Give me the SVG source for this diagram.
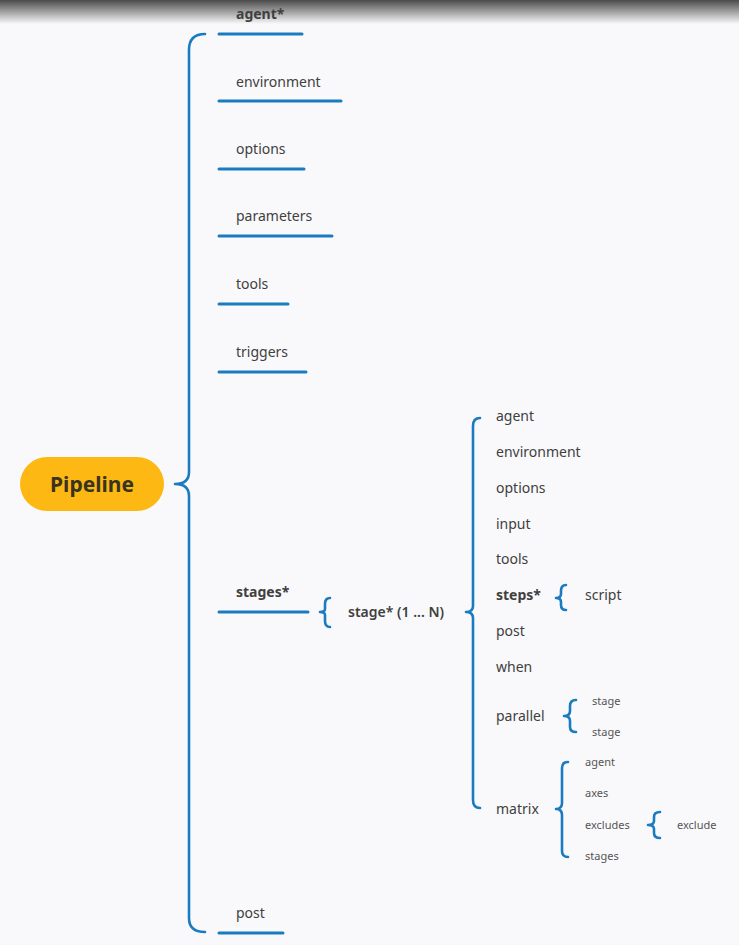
<svg xmlns="http://www.w3.org/2000/svg" width="739" height="945" viewBox="0 0 739 945">
<defs>
<linearGradient id="topshade" x1="0" y1="0" x2="0" y2="1">
<stop offset="0" stop-color="#4a4a4a"/>
<stop offset="0.45" stop-color="#9a9a9a"/>
<stop offset="1" stop-color="#f9f9fb"/>
</linearGradient>
<style>
.t{font-family:"Noto Sans","Open Sans",sans-serif;fill:#404040;font-size:14px}
.b{font-weight:bold}
.s{font-size:11px;fill:#555}
.ln{stroke:#1B7BC0;stroke-width:3;fill:none;stroke-linecap:round}
.br{stroke:#1B7BC0;stroke-width:2.6;fill:none;stroke-linecap:round;stroke-linejoin:round}
</style>
</defs>
<rect width="739" height="945" fill="#f9f9fb"/>
<rect width="739" height="24" fill="url(#topshade)"/>
<g id="pipeline">
<rect x="20" y="457" width="144" height="54" rx="27" fill="#FDB813"/>
<text x="92" y="492" text-anchor="middle" class="t b" style="font-size:21px;fill:#3a3320">Pipeline</text>
</g>
<g id="connectors">
<path class="br" d="M205,34 Q189,34 189,50 L189,472 Q189,484 175,484 Q189,484 189,496 L189,918 Q189,932 205,932"/>
<path class="ln" d="M219,34 H302"/>
<path class="ln" d="M219,101 H341"/>
<path class="ln" d="M219,169 H304"/>
<path class="ln" d="M219,236 H332"/>
<path class="ln" d="M219,304 H288"/>
<path class="ln" d="M219,372 H306"/>
<path class="ln" d="M219,612 H308"/>
<path class="ln" d="M219,933 H283"/>
<path class="br" d="M330,598 Q325,598 325,604 L325,609 Q325,612 320,612 Q325,612 325,615 L325,621 Q325,627 330,627"/>
<path class="br" d="M480,418 Q473,418 473,426 L473,606 Q473,612 466,612 Q473,612 473,618 L473,800 Q473,808 480,808"/>
<path class="br" d="M566,585 Q561,585 561,591 L561,594 Q561,598 556,598 Q561,598 561,602 L561,605 Q561,610 566,610"/>
<path class="br" d="M576,700 Q570,700 570,706 L570,711 Q570,716 564,716 Q570,716 570,721 L570,727 Q570,732 576,732"/>
<path class="br" d="M568,762 Q562,762 562,768 L562,803 Q562,809 556,809 Q562,809 562,815 L562,851 Q562,857 568,857"/>
<path class="br" d="M660,812 Q654,812 654,817 L654,821 Q654,825 648,825 Q654,825 654,829 L654,833 Q654,838 660,838"/>
</g>
<g id="agent"><text x="236" y="19" class="t b">agent*</text></g>
<g id="environment"><text x="236" y="87" class="t">environment</text></g>
<g id="options"><text x="236" y="154" class="t">options</text></g>
<g id="parameters"><text x="236" y="221" class="t">parameters</text></g>
<g id="tools"><text x="236" y="289" class="t">tools</text></g>
<g id="triggers"><text x="236" y="357" class="t">triggers</text></g>
<g id="stages"><text x="236" y="597" class="t b">stages*</text></g>
<g id="post"><text x="236" y="918" class="t">post</text></g>
<g id="stage"><text x="348" y="617" class="t" style="font-weight:600">stage* (1 ... N)</text></g>
<g id="s-agent"><text x="496" y="421" class="t">agent</text></g>
<g id="s-environment"><text x="496" y="457" class="t">environment</text></g>
<g id="s-options"><text x="496" y="493" class="t">options</text></g>
<g id="s-input"><text x="496" y="529" class="t">input</text></g>
<g id="s-tools"><text x="496" y="564" class="t">tools</text></g>
<g id="s-steps"><text x="496" y="600" class="t b">steps*</text></g>
<g id="script"><text x="585" y="600" class="t">script</text></g>
<g id="s-post"><text x="496" y="636" class="t">post</text></g>
<g id="s-when"><text x="496" y="672" class="t">when</text></g>
<g id="s-parallel"><text x="496" y="721" class="t">parallel</text></g>
<g id="p-stage1"><text x="592" y="705" class="t s">stage</text></g>
<g id="p-stage2"><text x="592" y="736" class="t s">stage</text></g>
<g id="s-matrix"><text x="496" y="814" class="t">matrix</text></g>
<g id="m-agent"><text x="585" y="766" class="t s">agent</text></g>
<g id="m-axes"><text x="585" y="797" class="t s">axes</text></g>
<g id="m-excludes"><text x="585" y="829" class="t s">excludes</text></g>
<g id="m-stages"><text x="585" y="860" class="t s">stages</text></g>
<g id="exclude"><text x="677" y="829" class="t s">exclude</text></g>
</svg>
